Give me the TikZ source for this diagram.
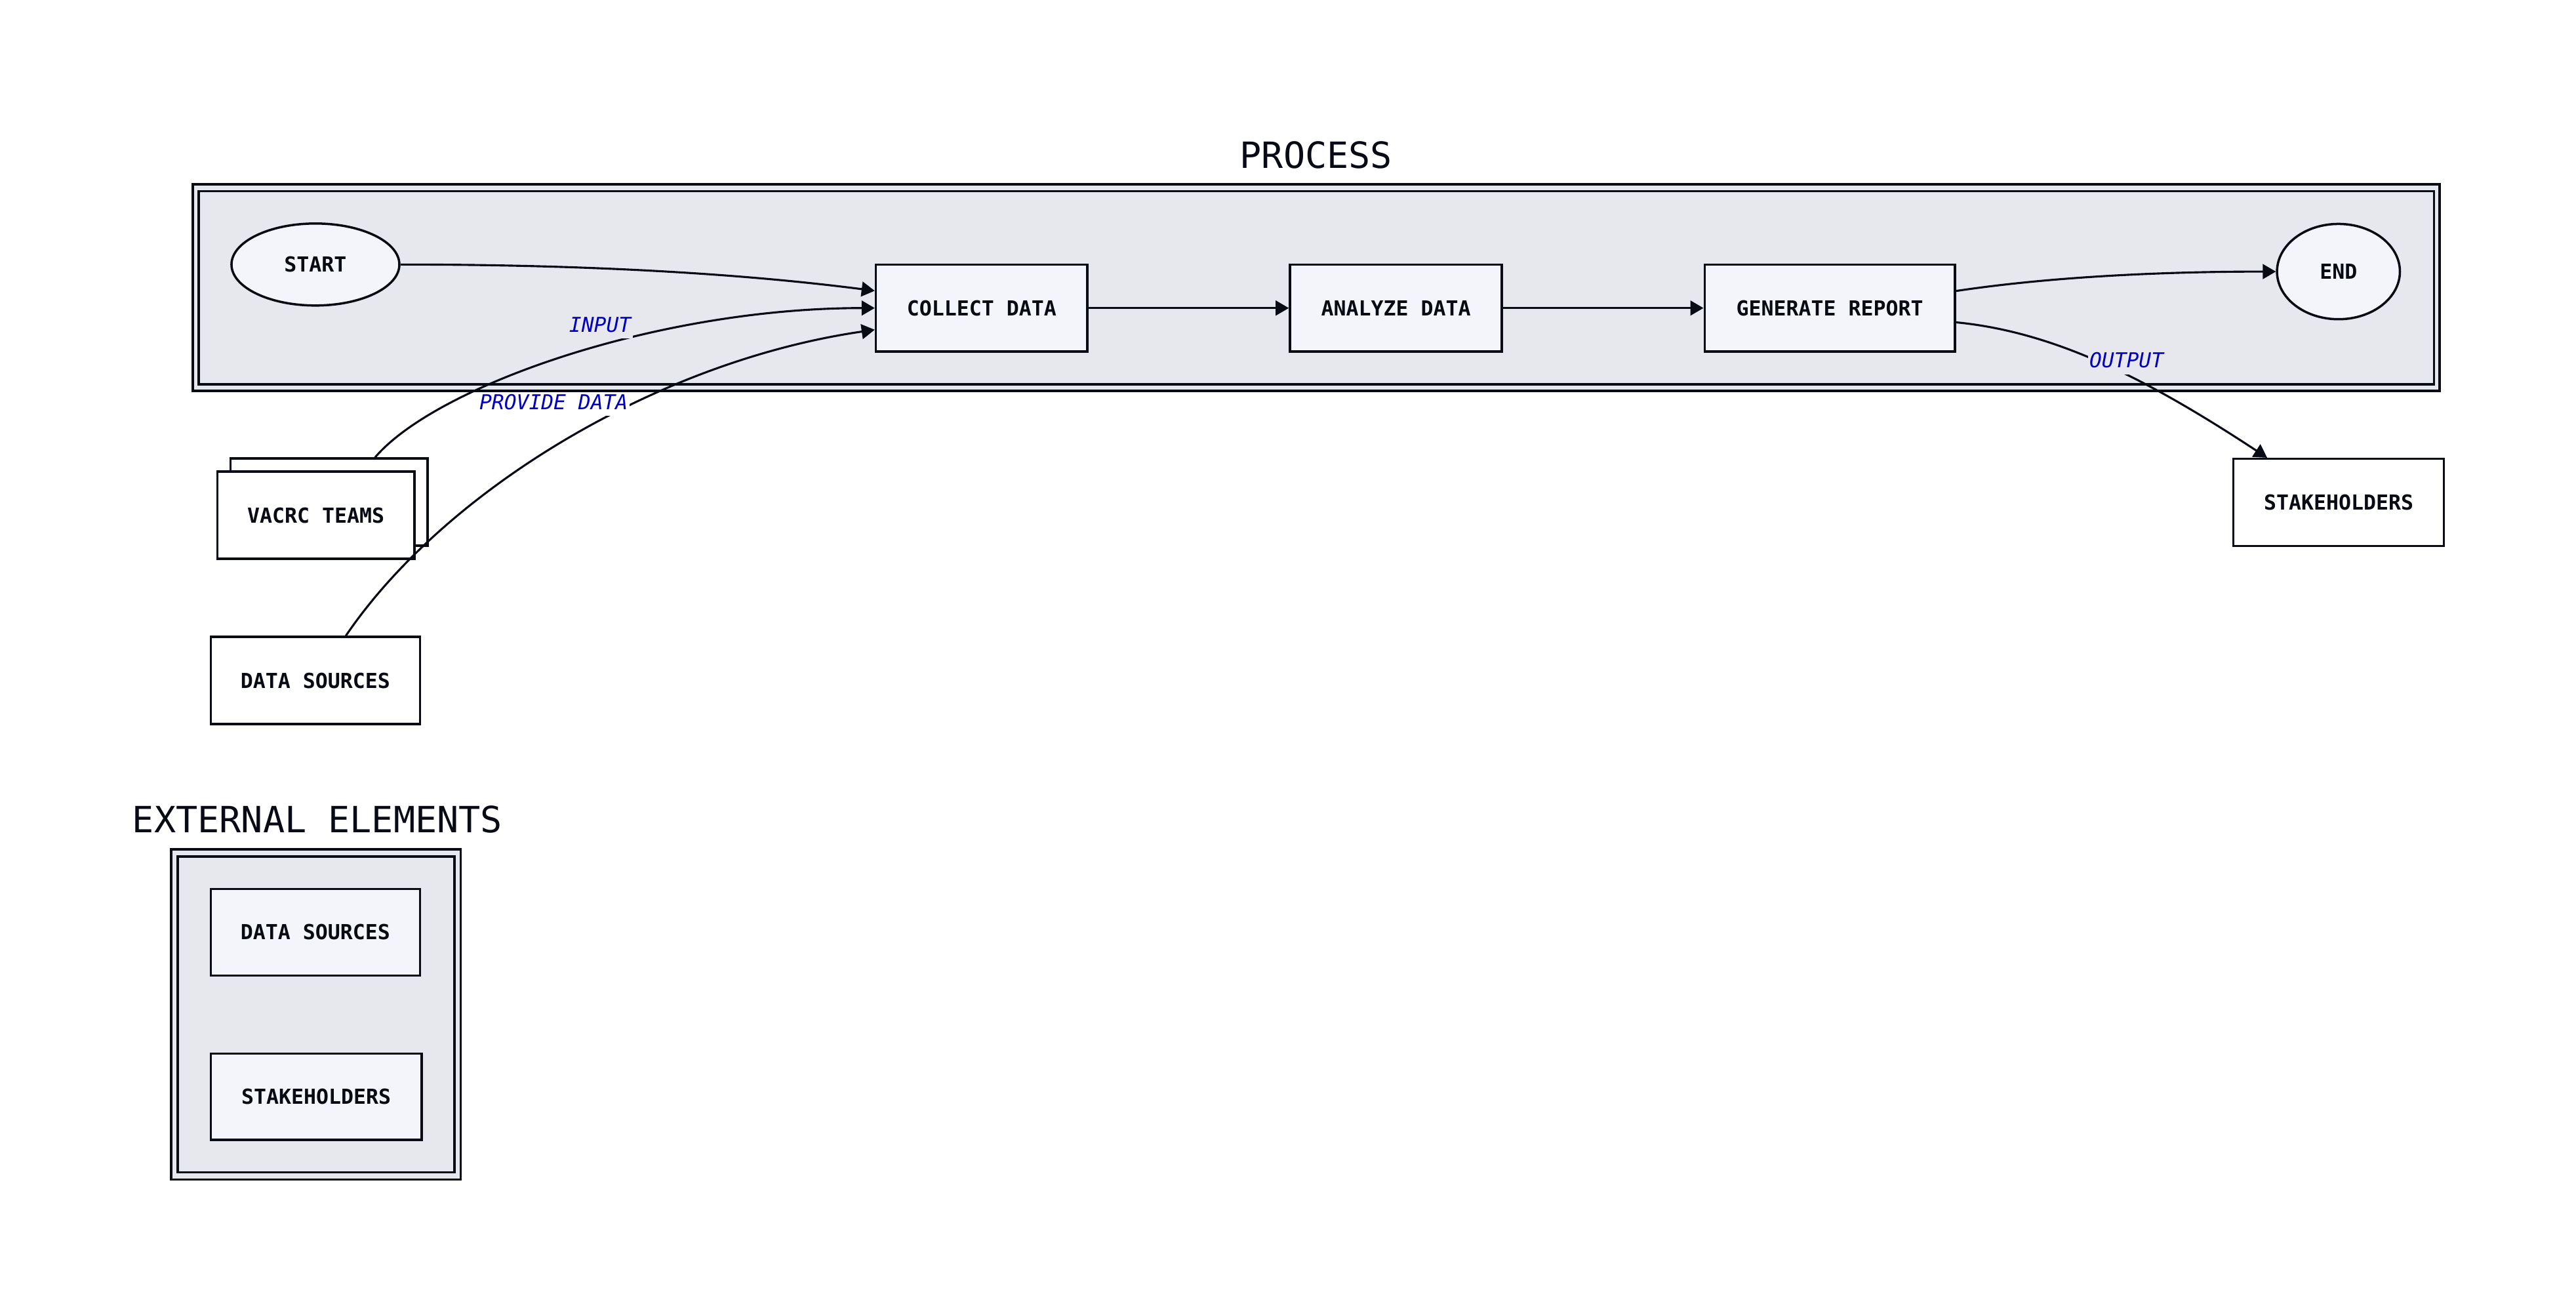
\documentclass[tikz,border=0pt]{standalone}
\usepackage{fontspec}
\setmonofont{DejaVu Sans Mono}
\usetikzlibrary{shapes.geometric,arrows.meta,calc}
\definecolor{cfill}{RGB}{231,232,238}
\definecolor{nfill}{RGB}{244,245,250}
\definecolor{ink}{RGB}{8,10,20}
\definecolor{lblue}{RGB}{0,0,190}
\newcommand{\nodefont}{\ttfamily\bfseries\fontsize{12.6}{15}\selectfont}
\newcommand{\lblfont}{\ttfamily\itshape\fontsize{12.5}{15}\selectfont}
\newcommand{\ttlfont}{\ttfamily\fontsize{22}{26}\selectfont}
\tikzset{
  frame/.style={draw=ink, line width=1.35pt, fill=cfill},
  procbox/.style={draw=ink, line width=1.4pt, fill=nfill, rectangle, minimum height=53pt, inner sep=0pt, font=\nodefont, text=ink},
  extbox/.style={procbox, fill=white},
  termnode/.style={draw=ink, line width=1.4pt, fill=nfill, ellipse, inner sep=0pt, font=\nodefont, text=ink},
  conn/.style={draw=ink, line width=1.25pt, -{Triangle[length=8pt,width=9pt]}},
  lbl/.style={font=\lblfont, text=lblue, inner sep=1pt, text depth=3pt, anchor=base},
  ttl/.style={font=\ttlfont, text=ink, anchor=base, inner sep=0pt}
}
\begin{document}
\begin{tikzpicture}[x=1pt,y=-1pt]
\useasboundingbox (0,0) rectangle (1568,799.17);
% process frame
\draw[frame] (117.3,112.2) rectangle (1484.9,237.9);
\draw[frame] (121,116.4) rectangle (1481.5,233.9);
\node[ttl] (ptitle) at (801.1,102.4) {PROCESS};
% external frame
\draw[frame] (104.2,517) rectangle (280.4,717.9);
\draw[frame] (108.2,521.4) rectangle (276.6,713.5);
\node[ttl] (etitle) at (193.2,506.8) {EXTERNAL ELEMENTS};
% nodes
\node[termnode, minimum width=102.2pt, minimum height=49.9pt] (start) at (192,161) {START};
\node[procbox, minimum width=128.7pt] (collect) at (597.5,187.5) {COLLECT DATA};
\node[procbox, minimum width=129pt] (analyze) at (849.7,187.5) {ANALYZE DATA};
\node[procbox, minimum width=152.4pt] (generate) at (1113.8,187.5) {GENERATE REPORT};
\node[termnode, minimum width=74.8pt, minimum height=58pt] (end) at (1423.4,165.3) {END};
\node[extbox, minimum width=128pt] (stakeR) at (1423.5,305.8) {STAKEHOLDERS};
\node[extbox, minimum width=120pt] (vacrcback) at (200.3,305.6) {};
\node[extbox, minimum width=120pt] (vacrc) at (192.3,313.6) {VACRC TEAMS};
\node[extbox, minimum width=127.3pt] (dsrc) at (192,414.2) {DATA SOURCES};
\node[procbox, minimum width=127.2pt, minimum height=52.6pt] (extds) at (192,567.4) {DATA SOURCES};
\node[procbox, minimum width=128.3pt, minimum height=52.6pt] (extsh) at (192.5,667.5) {STAKEHOLDERS};
% connectors
\draw[conn] (start.east) .. controls +(97,0) and +(-93,-12) .. ($(collect.west)+(0,-10.5)$);
\draw[conn] ($(vacrcback.north)+(28,0)$) .. controls +(36.7,-43.1) and +(-133.2,0) .. (collect.west);
\draw[conn] ($(dsrc.north)+(18.5,0)$) .. controls +(59.5,-87.7) and +(-133.2,19.3) .. ($(collect.west)+(0,13.2)$);
\draw[conn] (collect) -- (analyze);
\draw[conn] (analyze) -- (generate);
\draw[conn] ($(generate.east)+(0,-10.4)$) .. controls +(60,-9) and +(-66,0) .. (end.west);
\draw[conn] ($(generate.east)+(0,8.7)$) .. controls +(62,6) and +(-70,-46) .. ($(stakeR.north)+(-43.5,0)$);
% labels
\node[lbl, fill=cfill] (linput) at (365.3,202) {INPUT};
\node[lbl, fill=white] (lprov) at (337,249.1) {PROVIDE DATA};
\node[lbl, fill=cfill] (lout) at (1294.4,223.8) {OUTPUT};
\end{tikzpicture}
\end{document}
